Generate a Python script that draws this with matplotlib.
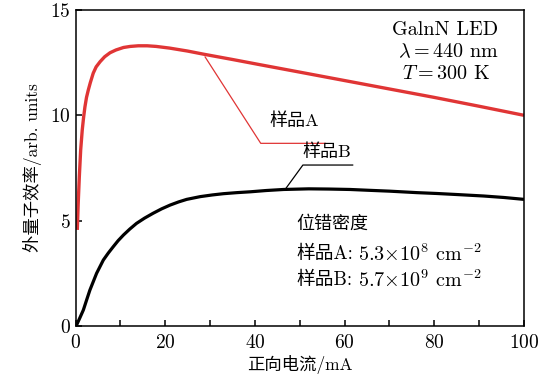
import matplotlib
matplotlib.use("Agg")
import matplotlib.pyplot as plt
from matplotlib.ticker import MultipleLocator

plt.rcParams['font.family'] = ['cmr10', 'Noto Sans CJK SC']
plt.rcParams['mathtext.fontset'] = 'cm'
plt.rcParams['axes.formatter.use_mathtext'] = True

# Sample A (low dislocation density), red
current_a = [0.4, 0.6, 0.85, 1.15, 1.5, 1.8, 2.1, 2.45, 2.85, 3.3, 3.95, 4.6, 5.5,
             6.5, 7.7, 9.0, 10.7, 12.2, 14.0, 16.0, 18.0, 21.0, 25.0, 28.6, 35.0,
             41.2, 50, 60, 70, 80, 90, 100]
eqe_a = [4.56, 5.82, 7.09, 8.35, 9.3, 9.9, 10.4, 10.85, 11.2, 11.55, 12.0, 12.3, 12.55,
         12.78, 12.97, 13.1, 13.22, 13.27, 13.3, 13.3, 13.27, 13.19, 13.05, 12.9, 12.65,
         12.4, 12.05, 11.65, 11.25, 10.85, 10.43, 10.0]

# Sample B (high dislocation density), black
current_b = [0.0, 0.25, 1.0, 1.75, 2.5, 3.2, 4.7, 6.2, 7.3, 8.4, 9.5, 10.7, 12.1, 13.6,
             15.4, 17.3, 19.2, 21.1, 23.0, 24.8, 27.8, 30.5, 33, 36, 39, 42.5, 46.4,
             52, 56.5, 61.2, 65.5, 70, 76.1, 80.5, 85, 91, 95.5, 100]
eqe_b = [0.0, 0.05, 0.4, 0.76, 1.25, 1.7, 2.5, 3.13, 3.46, 3.76, 4.05, 4.32, 4.6, 4.87,
         5.12, 5.35, 5.56, 5.74, 5.89, 6.01, 6.14, 6.22, 6.28, 6.33, 6.37, 6.43, 6.48,
         6.51, 6.5, 6.48, 6.44, 6.4, 6.33, 6.29, 6.24, 6.17, 6.1, 6.01]

red = '#e03535'

fig = plt.figure(figsize=(5.5, 3.81), dpi=100)
ax = fig.add_axes([0.1373, 0.1444, 0.8154, 0.8294])

ax.plot(current_a, eqe_a, color=red, lw=2.4, solid_capstyle='butt', solid_joinstyle='round')
ax.plot(current_b, eqe_b, color='black', lw=2.3, solid_capstyle='butt', solid_joinstyle='round')

ax.set_xlim(0, 100)
ax.set_ylim(0, 15)
ax.xaxis.set_major_locator(MultipleLocator(20))
ax.xaxis.set_minor_locator(MultipleLocator(10))
ax.yaxis.set_major_locator(MultipleLocator(5))
ax.tick_params(which='both', direction='in', length=4, width=1.1,
               top=False, right=False, labelsize=14)
ax.tick_params(axis='x', pad=6)
for sp in ax.spines.values():
    sp.set_linewidth(1.1)

ax.set_xlabel('正向电流/mA', fontsize=12.5, labelpad=2)
ax.set_ylabel('外量子效率/arb. units', fontsize=12.5, labelpad=6)

# callout lines
ax.plot([28.9, 41.3, 55.7], [12.77, 8.67, 8.67], color=red, lw=0.9)
ax.text(48.7, 9.74, '样品A', fontsize=13, ha='center', va='center')
ax.plot([46.8, 50.7, 61.8], [6.5, 7.64, 7.64], color='black', lw=0.9)
ax.text(56.1, 8.27, '样品B', fontsize=13, ha='center', va='center')

ax.text(70.5, 14.05, 'GalnN LED', fontsize=14.5, ha='left', va='center')
ax.text(71.9, 13.02, r'$\lambda = 440$ nm', fontsize=14.5, ha='left', va='center')
ax.text(72.7, 11.96, r'$T = 300$ K', fontsize=14.5, ha='left', va='center')

ax.text(49.2, 4.87, '位错密度', fontsize=13, ha='left', va='center')
densities = [('样品A:', r'5.3$\times$10$^{8}$ cm$^{-2}$', 3.42),
             ('样品B:', r'5.7$\times$10$^{9}$ cm$^{-2}$', 2.18)]
for name, value, ypos in densities:
    t = ax.text(49.2, ypos, name, fontsize=13.5, ha='left', va='center')
    ax.annotate(value, xy=(1, 0.5), xycoords=t, xytext=(4, 0),
                textcoords='offset points', fontsize=14.5, ha='left', va='center')

fig.savefig('out.png', dpi=100)
